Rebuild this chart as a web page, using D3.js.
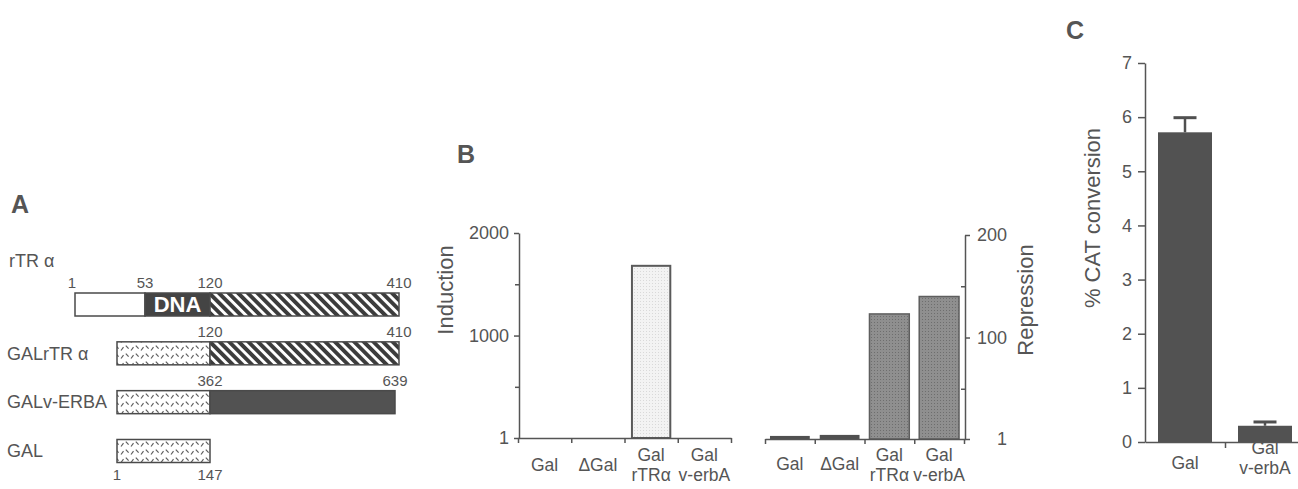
<!DOCTYPE html>
<html><head><meta charset="utf-8">
<script src="https://cdn.jsdelivr.net/npm/d3@7"></script>
<style>
html,body{margin:0;padding:0;background:#fff;}
svg{display:block;font-family:"Liberation Sans",Arial,Helvetica,sans-serif;}
</style></head><body>
<svg id="fig" width="1298" height="489"></svg>
<script>
// ---------- DATA ----------
// Panel A: constructs and their segments (residue numbers)
const constructNames = ["rTR α", "GALrTR α", "GALv-ERBA", "GAL"];
const constructSegments = [
  [{src:"rTR", from:1, to:53, kind:"open"}, {src:"rTR", from:53, to:120, kind:"dna"}, {src:"rTR", from:120, to:410, kind:"hatch"}],
  [{src:"GAL", from:1, to:147, kind:"gal"}, {src:"rTR", from:120, to:410, kind:"hatch"}],
  [{src:"GAL", from:1, to:147, kind:"gal"}, {src:"vErbA", from:362, to:639, kind:"solid"}],
  [{src:"GAL", from:1, to:147, kind:"gal"}]
];
const residueLabels = [
  {src:"rTR", values:[1, 53, 120, 410], below:false},
  {src:"rTR", values:[120, 410], below:false},
  {src:"vErbA", values:[362, 639], below:false},
  {src:"GAL", values:[1, 147], below:true}
];
// Panel B
const bCategories = [["Gal"], ["ΔGal"], ["Gal", "rTRα"], ["Gal", "v-erbA"]];
const inductionValues = [1, 1, 1680, 1];
const inductionTicks = [1, 1000, 2000];
const inductionMinorTicks = [500, 1500];
const repressionValues = [4, 5, 123, 140];
const repressionTicks = [1, 100, 200];
const repressionMinorTicks = [50, 150];
// Panel C
const cCategories = [["Gal"], ["Gal", "v-erbA"]];
const catValues = [5.72, 0.3];
const catErrors = [0.27, 0.07];
const catTicks = [0, 1, 2, 3, 4, 5, 6, 7];

// ---------- DRAWING ----------
const TXT = "#555", LINE = "#555";
const svg = d3.select("#fig");
const defs = svg.append("defs");

// patterns
const hatch = defs.append("pattern").attr("id", "hatch").attr("patternUnits", "userSpaceOnUse")
  .attr("width", 6.8).attr("height", 10).attr("patternTransform", "rotate(-45)");
hatch.append("rect").attr("width", 6.8).attr("height", 10).attr("fill", "#fff");
hatch.append("rect").attr("width", 3.9).attr("height", 10).attr("fill", "#3c3c3c");

const gal = defs.append("pattern").attr("id", "gal").attr("patternUnits", "userSpaceOnUse")
  .attr("width", 10).attr("height", 8);
gal.append("rect").attr("width", 10).attr("height", 8).attr("fill", "#fff");
gal.append("path").attr("d", "M1,6.5 L3.5,3.2 M5.8,1.6 L8.6,4.6").attr("stroke", "#5e5e5e").attr("stroke-width", 1.2).attr("fill", "none");

const stL = defs.append("pattern").attr("id", "stipLight").attr("patternUnits", "userSpaceOnUse").attr("width", 3).attr("height", 3);
stL.append("rect").attr("width", 3).attr("height", 3).attr("fill", "#f3f3f3");
stL.append("rect").attr("x", 1).attr("y", 1).attr("width", 1).attr("height", 1).attr("fill", "#d9d9d9");

const stD = defs.append("pattern").attr("id", "stipDark").attr("patternUnits", "userSpaceOnUse").attr("width", 3).attr("height", 3);
stD.append("rect").attr("width", 3).attr("height", 3).attr("fill", "#8f8f8f");
stD.append("rect").attr("x", 1).attr("y", 1).attr("width", 1).attr("height", 1).attr("fill", "#6e6e6e");

function panelLetter(t, x, y) {
  svg.append("text").attr("x", x).attr("y", y).text(t)
    .attr("font-size", 25).attr("font-weight", "bold").attr("fill", TXT);
}

// ===== Panel A =====
panelLetter("A", 11, 213);
const srcScales = {
  rTR: d3.scaleLinear().domain([1, 53, 120, 410]).range([75, 145, 210, 399]),
  GAL: d3.scaleLinear().domain([1, 147]).range([117, 210]),
  vErbA: d3.scaleLinear().domain([362, 639]).range([210, 395])
};
const rowY = d3.scalePoint().domain(constructNames).range([304.5, 451]);
const barH = 23;
const fills = {open: "#fff", dna: "#444", hatch: "url(#hatch)", gal: "url(#gal)", solid: "#525252"};
const gA = svg.append("g");
constructNames.forEach((name, i) => {
  const cy = rowY(name);
  const segs = constructSegments[i];
  gA.selectAll(null).data(segs).enter().append("rect")
    .attr("x", d => srcScales[d.src](d.from))
    .attr("width", d => srcScales[d.src](d.to) - srcScales[d.src](d.from))
    .attr("y", cy - barH / 2).attr("height", barH)
    .attr("fill", d => fills[d.kind])
    .attr("stroke", "#4a4a4a").attr("stroke-width", 1.5);
  segs.filter(d => d.kind === "dna").forEach(d => {
    gA.append("text").attr("x", (srcScales[d.src](d.from) + srcScales[d.src](d.to)) / 2)
      .attr("y", cy).attr("dy", "0.36em").attr("text-anchor", "middle")
      .attr("font-size", 22).attr("font-weight", "bold").attr("fill", "#fff").text("DNA");
  });
  // name
  gA.append("text").attr("x", i === 0 ? 9 : 7).attr("y", i === 0 ? cy - 44 : cy).attr("dy", "0.35em")
    .attr("font-size", 18).attr("fill", TXT).text(name);
  // residue numbers
  const rl = residueLabels[i];
  gA.selectAll(null).data(rl.values).enter().append("text")
    .attr("x", v => srcScales[rl.src](v) - (v === 1 && !rl.below ? 3 : 0))
    .attr("y", rl.below ? cy + barH / 2 + 12 : cy - barH / 2 - 10)
    .attr("dy", "0.35em").attr("text-anchor", "middle")
    .attr("font-size", 15).attr("fill", TXT).text(v => v);
});

// ===== helpers for category axes =====
function catLabels(g, x, cats, singleY, firstY, lh, size) {
  cats.forEach((lines, i) => {
    const cx = x(i) + x.bandwidth() / 2;
    lines.forEach((ln, j) => {
      g.append("text").attr("x", cx)
        .attr("y", lines.length === 1 ? singleY : firstY + j * lh)
        .attr("dy", "0.35em").attr("text-anchor", "middle")
        .attr("font-size", size).attr("fill", TXT).text(ln);
    });
  });
}
function styleAxis(sel, fs) {
  sel.selectAll("path,line").attr("stroke", LINE).attr("stroke-width", 1.5);
  sel.selectAll("text").attr("fill", TXT).attr("font-size", fs)
    .attr("font-family", '"Liberation Sans",Arial,Helvetica,sans-serif');
}

// ===== Panel B =====
panelLetter("B", 457, 163);
const gB = svg.append("g");
// left: induction
const xInd = d3.scaleBand().domain(d3.range(bCategories.length)).range([518, 731]).paddingInner(0.28).paddingOuter(0.14);
const yInd = d3.scaleLinear().domain([1, 2000]).range([438, 233]);
gB.selectAll(null).data(inductionValues).enter().append("rect")
  .attr("x", (d, i) => xInd(i)).attr("width", xInd.bandwidth())
  .attr("y", d => yInd(d)).attr("height", d => yInd(1) - yInd(d))
  .attr("fill", "url(#stipLight)").attr("stroke", d => d > 1 ? "#5a5a5a" : "none").attr("stroke-width", 2);
const axIndY = gB.append("g").attr("transform", "translate(519,0)")
  .call(d3.axisLeft(yInd).tickValues(inductionTicks).tickSize(5).tickPadding(5).tickSizeOuter(0).tickFormat(d => d));
styleAxis(axIndY, 18);
const axIndYm = gB.append("g").attr("transform", "translate(519,0)")
  .call(d3.axisLeft(yInd).tickValues(inductionMinorTicks).tickSize(4).tickFormat(""));
axIndYm.select(".domain").remove(); styleAxis(axIndYm, 18);
const indBounds = d3.range(bCategories.length + 1).map(i => xInd.range()[0] + i * xInd.step());
const axIndX = gB.append("g").attr("transform", "translate(0,438)")
  .call(d3.axisBottom(d3.scaleLinear().domain([518, 731]).range([518, 731])).tickValues(indBounds).tickSize(5).tickSizeOuter(0).tickFormat(""));
styleAxis(axIndX, 17);
catLabels(gB, xInd, bCategories, 465, 455, 20, 17.5);
gB.append("text").attr("transform", "translate(445,290) rotate(-90)").attr("text-anchor", "middle")
  .attr("dy", "0.35em").attr("font-size", 22).attr("fill", TXT).text("Induction");

// right: repression
const xRep = d3.scaleBand().domain(d3.range(bCategories.length)).range([765, 964]).paddingInner(0.2).paddingOuter(0.1);
const yRep = d3.scaleLinear().domain([1, 200]).range([439, 235]);
gB.selectAll(null).data(repressionValues).enter().append("rect")
  .attr("x", (d, i) => xRep(i)).attr("width", xRep.bandwidth())
  .attr("y", d => yRep(d)).attr("height", d => yRep(1) - yRep(d))
  .attr("fill", d => d > 20 ? "url(#stipDark)" : "#505050")
  .attr("stroke", d => d > 20 ? "#5e5e5e" : "none").attr("stroke-width", 1.5);
const axRepY = gB.append("g").attr("transform", "translate(965,0)")
  .call(d3.axisRight(yRep).tickValues(repressionTicks).tickSize(5).tickSizeOuter(0).tickFormat(d => d));
styleAxis(axRepY, 18);
axRepY.selectAll("text").attr("text-anchor", "end").attr("x", 42);
const axRepYm = gB.append("g").attr("transform", "translate(965,0)")
  .call(d3.axisLeft(yRep).tickValues(repressionMinorTicks).tickSize(4).tickFormat(""));
axRepYm.select(".domain").remove(); styleAxis(axRepYm, 18);
const repBounds = d3.range(bCategories.length + 1).map(i => xRep.range()[0] + i * xRep.step());
const axRepX = gB.append("g").attr("transform", "translate(0,439)")
  .call(d3.axisBottom(d3.scaleLinear().domain([765, 965]).range([765, 965])).tickValues(repBounds).tickSize(5).tickSizeOuter(0).tickFormat(""));
styleAxis(axRepX, 17);
catLabels(gB, xRep, bCategories, 464, 455, 20, 17.5);
gB.append("text").attr("transform", "translate(1025,300) rotate(-90)").attr("text-anchor", "middle")
  .attr("dy", "0.35em").attr("font-size", 22).attr("fill", TXT).text("Repression");

// ===== Panel C =====
panelLetter("C", 1066, 39);
const gC = svg.append("g");
const xC = d3.scaleBand().domain(d3.range(cCategories.length)).range([1145, 1305]).paddingInner(0.325).paddingOuter(0.1625);
const yC = d3.scaleLinear().domain([0, 7]).range([442, 63]);
// error bars
gC.selectAll(null).data(catValues).enter().append("line")
  .attr("x1", (d, i) => xC(i) + xC.bandwidth() / 2).attr("x2", (d, i) => xC(i) + xC.bandwidth() / 2)
  .attr("y1", d => yC(d)).attr("y2", (d, i) => yC(d + catErrors[i]))
  .attr("stroke", "#505050").attr("stroke-width", 2.5);
gC.selectAll(null).data(catValues).enter().append("line")
  .attr("x1", (d, i) => xC(i) + xC.bandwidth() / 2 - 11.5).attr("x2", (d, i) => xC(i) + xC.bandwidth() / 2 + 11.5)
  .attr("y1", (d, i) => yC(d + catErrors[i])).attr("y2", (d, i) => yC(d + catErrors[i]))
  .attr("stroke", "#505050").attr("stroke-width", 3);
gC.selectAll(null).data(catValues).enter().append("rect")
  .attr("x", (d, i) => xC(i)).attr("width", xC.bandwidth())
  .attr("y", d => yC(d)).attr("height", d => yC(0) - yC(d))
  .attr("fill", "#525252");
const axCY = gC.append("g").attr("transform", "translate(1145,0)")
  .call(d3.axisLeft(yC).tickValues(catTicks).tickSize(7).tickPadding(6).tickSizeOuter(0).tickFormat(d3.format("d")));
styleAxis(axCY, 18);
const cBounds = d3.range(1, cCategories.length).map(i => xC.range()[0] + i * xC.step());
const axCX = gC.append("g").attr("transform", "translate(0,442)")
  .call(d3.axisBottom(d3.scaleLinear().domain([1145, 1305]).range([1145, 1305])).tickValues(cBounds).tickSize(6).tickSizeOuter(0).tickFormat(""));
styleAxis(axCX, 17);
catLabels(gC, xC, cCategories, 463, 448, 20, 17.5);
gC.append("text").attr("transform", "translate(1092,218) rotate(-90)").attr("text-anchor", "middle")
  .attr("dy", "0.35em").attr("font-size", 22).attr("fill", TXT).text("% CAT conversion");
</script>
</body></html>
